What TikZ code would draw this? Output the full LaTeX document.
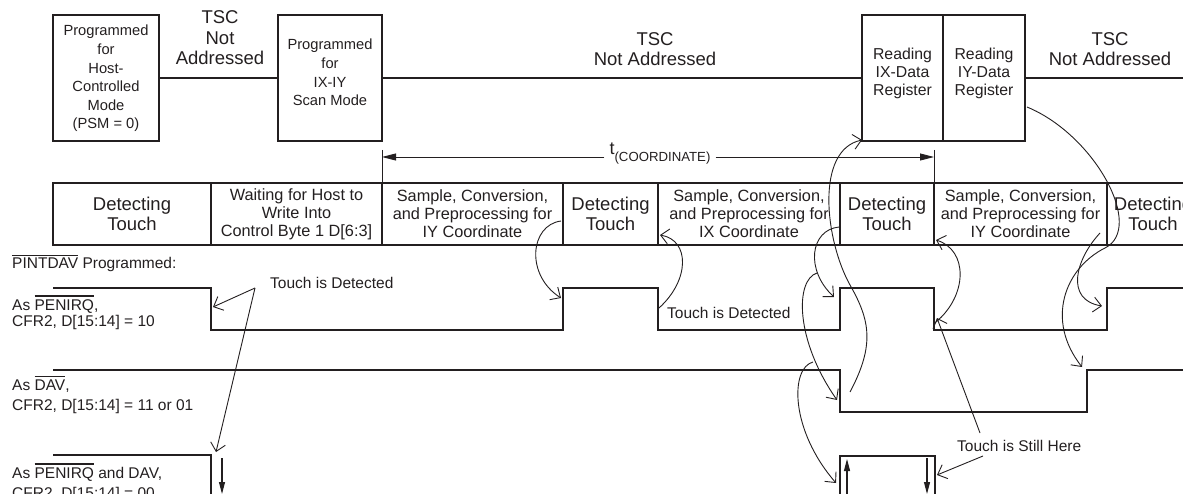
\documentclass[tikz,border=0pt]{standalone}
\usepackage{fontspec}
\setmainfont{Liberation Sans}
\usetikzlibrary{arrows.meta}
\definecolor{ink}{HTML}{231F20}
\newcommand{\ovl}[1]{\leavevmode\vbox{\hrule height 1.1pt \kern 2.6pt \hbox{#1}}}
\begin{document}
\begin{tikzpicture}[x=1pt,y=-1pt,
  every node/.style={text=ink, inner sep=0pt},
  heavy/.style={draw=ink, line width=2.2pt},
  wave/.style={draw=ink, line width=2.2pt, line join=miter},
  hbox/.style={draw=ink, line width=2.2pt, minimum height=126pt},
  cell/.style={draw=ink, line width=2.2pt, minimum height=62pt, align=center},
  thinl/.style={draw=ink, line width=0.9pt},
  note/.style={draw=ink, line width=0.9pt, -{Straight Barb[length=8pt,width=15pt]}},
  dim/.style={draw=ink, line width=0.9pt, -{Triangle[length=14pt,width=7pt]}},
  small/.style={draw=ink, line width=1.1pt, -{Triangle[length=12pt,width=6pt]}},
  big/.style={font=\fontsize{18.5}{20.5}\selectfont, align=center},
  mid/.style={font=\fontsize{16.3}{18}\selectfont, align=center},
  boxtxt/.style={font=\fontsize{14.7}{18.6}\selectfont, align=center},
  regtxt/.style={font=\fontsize{15.8}{18.3}\selectfont, align=center},
  sig/.style={font=\fontsize{15.5}{19}\selectfont, anchor=base west},
]
\useasboundingbox (0,0) rectangle (1183,494);

% ---------- top row: bus states ----------
\node[hbox, minimum width=106pt] (b1) at (106,78) {};
\node[boxtxt] (b1t) at (106,78.5) {Programmed\\for\\Host-\\Controlled\\Mode\\(PSM = 0)};
\node[hbox, minimum width=104pt] (b2) at (330,78) {};
\node[boxtxt] (b2t) at (330,72.5) {Programmed\\for\\IX-IY\\Scan Mode};
\node[hbox, minimum width=81pt] (b3) at (902.5,78) {};
\node[regtxt] (b3t) at (902.5,73.5) {Reading\\IX-Data\\Register};
\node[hbox, minimum width=82pt] (b4) at (984,78) {};
\node[regtxt] (b4t) at (984,73.5) {Reading\\IY-Data\\Register};
\coordinate (busend) at (1183,78);
\draw[heavy] (b1.east) -- (b2.west);
\draw[heavy] (b2.east) -- (b3.west);
\draw[heavy] (b4.east) -- (busend);

\node[big] (tsc1) at (220,38) {TSC\\Not\\Addressed};
\node[big] (tsc2) at (655,49) {TSC\\Not Addressed};
\node[big] (tsc3) at (1110,49) {TSC\\Not Addressed};

% ---------- t(COORDINATE) ----------
\coordinate (tl) at (382,157);
\coordinate (tr) at (934,157);
\node[font=\fontsize{18}{18}\selectfont, anchor=base, inner xsep=5pt] (tc) at (660,155)
  {t\raisebox{-7pt}{\fontsize{13.2}{13}\selectfont(COORDINATE)}};
\draw[dim] (tc.west |- tl) -- (tl);
\draw[dim] (tc.east |- tr) -- (tr);
\draw[thinl] (tl) ++(0,-7) -- ++(0,33);
\draw[thinl] (tr) ++(0,-7) -- ++(0,33);

% ---------- state bar ----------
\node[cell, big, minimum width=158pt] (c1) at (132,214) {Detecting\\Touch};
\node[cell, mid, minimum width=171pt] (c2) at (296.5,214) {Waiting for Host to\\Write Into\\Control Byte 1 D[6:3]};
\node[cell, mid, minimum width=181pt] (c3) at (472.5,214) {Sample, Conversion,\\and Preprocessing for\\IY Coordinate};
\node[cell, big, minimum width=95pt] (c4) at (610.5,214) {Detecting\\Touch};
\node[cell, mid, minimum width=182pt] (c5) at (749,214) {Sample, Conversion,\\and Preprocessing for\\IX Coordinate};
\node[cell, big, minimum width=94pt] (c6) at (887,214) {Detecting\\Touch};
\node[cell, mid, minimum width=173pt] (c7) at (1020.5,214) {Sample, Conversion,\\and Preprocessing for\\IY Coordinate};
\node[cell, big, minimum width=92pt] (c8) at (1153,214) {Detecting\\Touch};

% ---------- signal labels ----------
\node[sig] (lp)  at (12,269) {\ovl{PINTDAV} Programmed:};
\node[sig] (l1a) at (12,310) {As \ovl{PENIRQ},};
\node[sig] (l1b) at (12,326) {CFR2, D[15:14] = 10};
\node[sig] (l2a) at (12,390) {As \ovl{DAV},};
\node[sig] (l2b) at (12,410) {CFR2, D[15:14] = 11 or 01};
\node[sig] (l3a) at (12,478) {As \ovl{PENIRQ} and DAV,};
\node[sig] (l3b) at (12,498) {CFR2, D[15:14] = 00};

% ---------- waveforms ----------
\draw[wave] (53,288) -- (211,288) -- (211,330) -- (563,330) -- (563,288) -- (658,288)
  -- (658,330) -- (840,330) -- (840,288) -- (934,288) -- (934,330) -- (1107,330)
  -- (1107,288) -- (1195,288);
\draw[wave] (53,370) -- (840,370) -- (840,412) -- (1087,412) -- (1087,370) -- (1195,370);
\draw[wave] (53,455) -- (211,455) -- (211,500);
\draw[wave] (840,500) -- (840,456) -- (935,456) -- (935,500);

\draw[small] (222,458) -- (222,494);
\draw[small] (847,494) -- (847,459);
\draw[small] (927,458) -- (927,494);

% ---------- annotations ----------
\node[sig] (td1) at (270,288) {Touch is Detected};
\node[sig] (td2) at (667,319) {Touch is Detected};
\node[sig] (tsh) at (957,451) {Touch is Still Here};

\coordinate (a1s) at (255,288);
\coordinate (a1e) at (213,307);
\coordinate (a2e) at (216,452);
\draw[note] (a1s) -- (a1e);
\draw[note] (a1s) -- (a2e);

\coordinate (cS) at (561,221); \coordinate (cE) at (561,298);
\draw[note] (cS) .. controls (530,225) and (525,275) .. (cE);

\coordinate (dS) at (659,308); \coordinate (dE) at (660,235);
\draw[note] (dS) .. controls (690,280) and (690,240) .. (dE);

\coordinate (eS) at (839,227); \coordinate (eE) at (834,297);
\draw[note] (eS) .. controls (810,230) and (805,270) .. (eE);

\coordinate (fS) at (850,392); \coordinate (fM) at (850,285); \coordinate (fE) at (862,140);
\draw[note] (fS) .. controls (875,345) and (870,320) .. (fM) .. controls (825,240) and (815,150) .. (fE);

\coordinate (gS) at (817,273); \coordinate (gE) at (837,400);
\draw[note] (gS) .. controls (795,280) and (795,340) .. (gE);

\coordinate (hS) at (813,362); \coordinate (hE) at (836,483);
\draw[note] (hS) .. controls (790,368) and (790,430) .. (hE);

\coordinate (iS) at (936,322); \coordinate (iE) at (936,240);
\draw[note] (iS) .. controls (968,295) and (968,250) .. (iE);

\coordinate (jS) at (980,433); \coordinate (jE) at (937,318);
\draw[note] (jS) -- (jE);
\coordinate (kS) at (983,456); \coordinate (kE) at (937,475);
\draw[note] (kS) -- (kE);

\coordinate (lS) at (1027,107); \coordinate (lM) at (1105,248); \coordinate (lE) at (1082,367);
\draw[note] (lS) .. controls (1095,135) and (1145,228) .. (lM) .. controls (1065,268) and (1045,320) .. (lE);

\coordinate (mS) at (1100,233); \coordinate (mE) at (1102,306);
\draw[note] (mS) .. controls (1075,260) and (1065,300) .. (mE);
\end{tikzpicture}
\end{document}
